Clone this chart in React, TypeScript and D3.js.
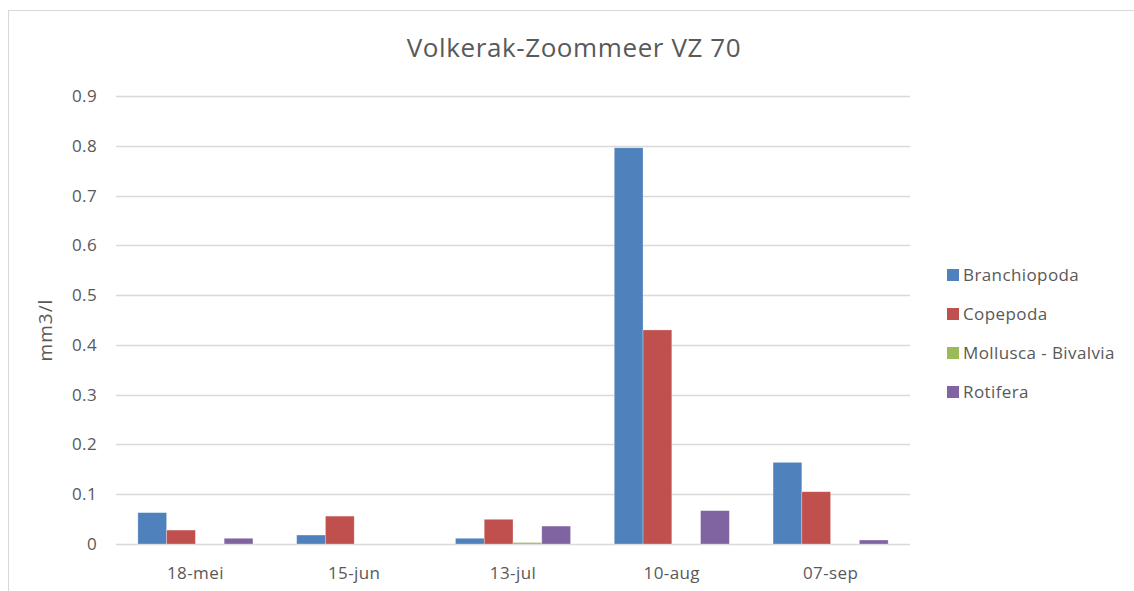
import * as d3 from 'd3';
import React, { useEffect, useRef } from 'react';

const categories = ['18-mei', '15-jun', '13-jul', '10-aug', '07-sep'];
const seriesNames = ['Branchiopoda', 'Copepoda', 'Mollusca - Bivalvia', 'Rotifera'];
const branchiopoda = [0.063, 0.018, 0.0115, 0.796, 0.164];
const copepoda = [0.028, 0.056, 0.0496, 0.43, 0.105];
const mollusca = [0, 0, 0.003, 0, 0];
const rotifera = [0.0115, 0, 0.036, 0.067, 0.008];
const yTicks = [0, 0.1, 0.2, 0.3, 0.4, 0.5, 0.6, 0.7, 0.8, 0.9];
const colors = ['#4F81BD', '#C0504D', '#9BBB59', '#8064A2'];

const App = () => {
    const svgRef = useRef<SVGSVGElement>(null);

    useEffect(() => {
        const svg = d3.select(svgRef.current);
        svg.selectAll('*').remove();

        const width = 1134;
        const height = 591;
        const left = 116, right = 910, top = 96, bottom = 544;
        const font = '"Open Sans", "Liberation Sans", sans-serif';
        const textColor = '#595959';

        svg.attr('width', width).attr('height', height);

        svg.append('rect')
            .attr('x', 8.5).attr('y', 10.5)
            .attr('width', 1140).attr('height', 600)
            .attr('fill', 'white')
            .attr('stroke', '#d9d9d9');

        const y = d3.scaleLinear().domain([0, 0.9]).range([bottom, top]);
        const x = d3.scaleBand().domain(categories).range([left, right]).padding(0);
        const gap = 1.52;
        const barW = x.bandwidth() / (seriesNames.length + gap);
        const x1 = d3.scaleBand().domain(seriesNames)
            .range([0, barW * seriesNames.length]).padding(0);

        // gridlines
        svg.append('g')
            .selectAll('line')
            .data(yTicks)
            .join('line')
            .attr('x1', left).attr('x2', right)
            .attr('y1', d => Math.round(y(d)) + 0.5)
            .attr('y2', d => Math.round(y(d)) + 0.5)
            .attr('stroke', '#d9d9d9')
            .attr('stroke-width', 1.3);

        svg.append('g')
            .selectAll('text')
            .data(yTicks)
            .join('text')
            .attr('x', 97)
            .attr('y', d => y(d))
            .attr('dy', '0.35em')
            .attr('text-anchor', 'end')
            .style('font-family', font)
            .style('font-size', '17px')
            .style('letter-spacing', '0.4px')
            .attr('fill', textColor)
            .text(d => d === 0 ? '0' : d3.format('.1f')(d));

        const allSeries = [branchiopoda, copepoda, mollusca, rotifera];
        const rows = categories.flatMap((c, i) =>
            seriesNames.map((s, j) => ({ cat: c, name: s, value: allSeries[j][i], color: colors[j] })));

        const offset = (x.bandwidth() - barW * seriesNames.length) / 2;
        svg.append('g')
            .selectAll('rect')
            .data(rows.filter(d => d.value > 0))
            .join('rect')
            .attr('x', d => (x(d.cat) as number) + offset + (x1(d.name) as number))
            .attr('y', d => y(d.value))
            .attr('width', x1.bandwidth())
            .attr('height', d => y(0) - y(d.value))
            .attr('fill', d => d.color)
            .attr('stroke', 'white')
            .attr('stroke-opacity', 0.4)
            .attr('stroke-width', 0.7);

        // category labels
        svg.append('g')
            .selectAll('text')
            .data(categories)
            .join('text')
            .attr('x', d => (x(d) as number) + x.bandwidth() / 2)
            .attr('y', 573)
            .attr('dy', '0.35em')
            .attr('text-anchor', 'middle')
            .style('font-family', font)
            .style('font-size', '17px')
            .style('letter-spacing', '0.4px')
            .attr('fill', textColor)
            .text(d => d);

        svg.append('text')
            .attr('x', 574).attr('y', 48)
            .attr('dy', '0.35em')
            .attr('text-anchor', 'middle')
            .style('font-family', font)
            .style('font-size', '26px')
            .style('letter-spacing', '0.6px')
            .attr('fill', textColor)
            .text('Volkerak-Zoommeer VZ 70');

        svg.append('text')
            .attr('transform', `translate(45, 330) rotate(-90)`)
            .attr('dy', '0.35em')
            .attr('text-anchor', 'middle')
            .style('font-family', font)
            .style('font-size', '19px')
            .style('letter-spacing', '1px')
            .attr('fill', textColor)
            .text('mm3/l');

        // legend
        const legend = svg.append('g')
            .selectAll('g')
            .data(seriesNames)
            .join('g')
            .attr('transform', (d, i) => `translate(947, ${275 + i * 39})`);

        legend.append('rect')
            .attr('x', 0).attr('y', -6)
            .attr('width', 12).attr('height', 12)
            .attr('fill', (d, i) => colors[i]);

        legend.append('text')
            .attr('x', 16).attr('y', 0)
            .attr('dy', '0.35em')
            .style('font-family', font)
            .style('font-size', '17px')
            .style('letter-spacing', '0.4px')
            .attr('fill', textColor)
            .text(d => d);
    }, []);

    return (
        <svg ref={svgRef} style={{ position: 'absolute', left: 0, top: 0 }}></svg>
    );
};

export default App;
